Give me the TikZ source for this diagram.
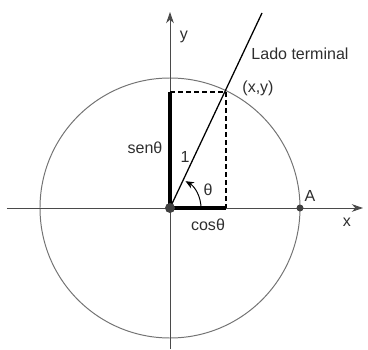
\documentclass[tikz,border=0pt]{standalone}
\usepackage{fontspec}
\setmainfont{Liberation Sans}
\usetikzlibrary{arrows.meta}
\definecolor{trigaxis}{HTML}{4A4A4A}
\definecolor{trigink}{HTML}{2E2E2E}
\definecolor{trigdot}{HTML}{404040}

\begin{document}
\begin{tikzpicture}[x=0.025cm,y=0.025cm,
    lbl/.style={text=trigink,font=\fontsize{11.4}{13}\selectfont,inner sep=0pt},
    axisline/.style={trigaxis,line width=0.7pt,-{Stealth[length=8pt,width=5.5pt]}}]
  \useasboundingbox (-170,-141) rectangle (198,208);
  \coordinate (O) at (0,0);
  \coordinate (P) at (56,116);
  \coordinate (T) at (92,195);
  \coordinate (Px) at (56,0);
  \coordinate (Py) at (0,116);
  \coordinate (A) at (130,0);
  \coordinate (Xs) at (-163,0);
  \coordinate (Xe) at (193,0);
  \coordinate (Ys) at (0,-141);
  \coordinate (Ye) at (0,196);
  % unit circle
  \draw[black!55,line width=0.7pt] (O) circle (130);
  % axes
  \draw[axisline] (Xs) -- (Xe);
  \draw[axisline] (Ys) -- (Ye);
  % projections
  \draw[black,line width=0.9pt,dash pattern=on 3.5pt off 2.2pt] (Py) -- (P) -- (Px);
  \draw[black,line width=2.3pt] (O) -- (Py);
  \draw[black,line width=2.3pt] (O) -- (Px);
  % terminal side
  \draw[black,line width=0.9pt] (O) -- (T);
  \draw[black,line width=0.7pt,-{Stealth[length=6pt,width=5pt]}] (31,0) arc (0:60:31);
  \fill[trigdot] (O) circle (5);
  \fill[trigdot] (A) circle (3.5);
  % labels
  \node[lbl] (ylab) at (14,171) {y};
  \node[lbl] (xlab) at (177,-14) {x};
  \node[lbl] (alab) at (140,12) {A};
  \node[lbl] (side) at (130,154) {Lado terminal};
  \node[lbl] (plab) at (88,120) {(x,y)};
  \node[lbl] (sen) at (-25,60) {senθ};
  \node[lbl] (one) at (15,51) {1};
  \node[lbl] (ang) at (38,18) {θ};
  \node[lbl] (cos) at (38,-17) {cosθ};
\end{tikzpicture}
\end{document}
